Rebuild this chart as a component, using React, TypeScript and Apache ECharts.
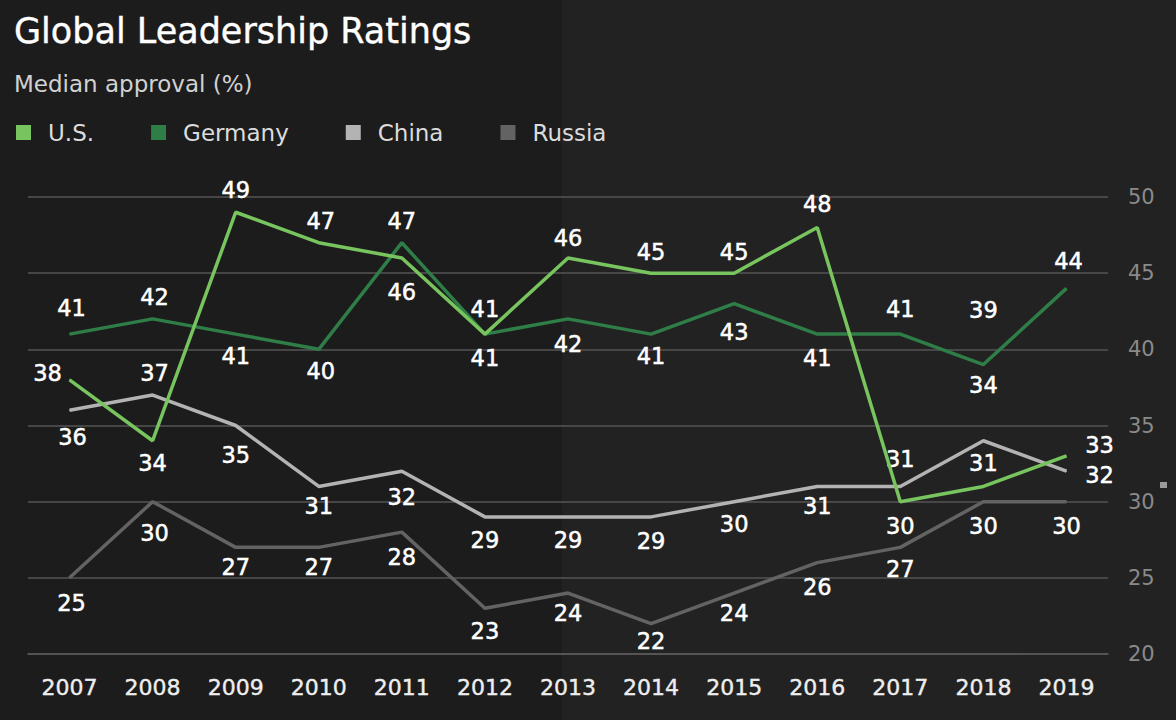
import { useEffect, useRef } from 'react'
import * as echarts from 'echarts'

const years = ['2007', '2008', '2009', '2010', '2011', '2012', '2013', '2014', '2015', '2016', '2017', '2018', '2019']
const usValues = [38, 34, 49, 47, 46, 41, 46, 45, 45, 48, 30, 31, 33]
const germanyValues = [41, 42, 41, 40, 47, 41, 42, 41, 43, 41, 41, 39, 44]
const chinaValues = [36, 37, 35, 31, 32, 29, 29, 29, 30, 31, 31, 34, 32]
const russiaValues = [25, 30, 27, 27, 28, 23, 24, 22, 24, 26, 27, 30, 30]
const yTicks = { min: 20, max: 50, step: 5 }

// label centre offsets from each point, in px (style only)
const usLabelOffsets = [[-22, -7], [0, 22], [0, -22], [2, -22], [0, 34], [0, -25], [0, -20], [0, -21], [0, -21], [0, -23], [0, 24], [0, -23], [33, -11]]
const germanyLabelOffsets = [[2, -26], [2, -22], [0, 22], [2, 22], [0, -22], [0, 24], [0, 25], [0, 22], [0, 28], [0, 24], [0, -25], [0, -55], [2, -27]]
const chinaLabelOffsets = [[3, 27], [2, -22], [0, 29], [0, 20], [0, 26], [0, 23], [0, 23], [0, 24], [0, 22], [0, 20], [0, -27], [0, -56], [33, 4]]
const russiaLabelOffsets = [[2, 25], [2, 31], [0, 20], [0, 20], [0, 25], [0, 23], [0, 20], [0, 17], [0, 20], [0, 24], [0, 22], [0, 24], [0, 24]]

const FONT = '"DejaVu Sans", sans-serif'

function makeSeries(name: string, values: number[], offsets: number[][], color: string, z: number) {
  return {
    name,
    type: 'line',
    z,
    symbol: 'circle',
    symbolSize: 1,
    itemStyle: { color },
    lineStyle: { color, width: 3.5 },
    label: {
      show: true,
      position: 'inside',
      color: '#ffffff',
      fontSize: 22.5,
      fontFamily: FONT,
      textBorderColor: '#ffffff',
      textBorderWidth: 0.5,
      align: 'center',
      verticalAlign: 'middle',
    },
    data: values.map((v, i) => ({ value: v, label: { offset: offsets[i] } })),
  }
}

export default function App() {
  const chartRef = useRef<HTMLDivElement>(null)

  useEffect(() => {
    if (!chartRef.current) return
    const chart = echarts.init(chartRef.current, null, { renderer: 'svg' })
    chart.setOption({
      animation: false,
      backgroundColor: '#1c1c1c',
      textStyle: { fontFamily: FONT },
      graphic: [
        { type: 'rect', z: -100, silent: true, shape: { x: 562, y: 0, width: 614, height: 720 }, style: { fill: '#222222' } },
        { type: 'rect', shape: { x: 1160, y: 482, width: 7, height: 6 }, style: { fill: '#9a9a9a' } },
      ],
      title: [
        {
          text: 'Global Leadership Ratings',
          left: 14, top: 10, padding: 0,
          textStyle: { color: '#ffffff', fontSize: 35, fontWeight: 'normal', fontFamily: FONT, lineHeight: 42, textBorderColor: '#ffffff', textBorderWidth: 0.4 },
        },
        {
          text: 'Median approval (%)',
          left: 14, top: 70, padding: 0,
          textStyle: { color: '#d2d2d2', fontSize: 23, fontWeight: 'normal', fontFamily: FONT, lineHeight: 28 },
        },
      ],
      legend: {
        left: 16, top: 121, padding: 0,
        icon: 'rect',
        itemWidth: 15, itemHeight: 15, itemGap: 57,
        textStyle: { color: '#dcdcdc', fontSize: 23, fontFamily: FONT, padding: [0, 0, 0, 12] },
        data: ['U.S.', 'Germany', 'China', 'Russia'],
      },
      grid: { left: 28, width: 1080, top: 197, height: 457 },
      xAxis: {
        type: 'category',
        data: years,
        boundaryGap: true,
        axisLine: { lineStyle: { color: '#5a5a5a', width: 1.5 } },
        axisTick: { alignWithLabel: true, length: 11, lineStyle: { color: '#5a5a5a', width: 1.5 } },
        axisLabel: { color: '#eeeeee', fontSize: 22, margin: 22, fontFamily: FONT, textBorderColor: '#eeeeee', textBorderWidth: 0.4 },
      },
      yAxis: {
        type: 'value',
        position: 'right',
        min: yTicks.min, max: yTicks.max, interval: yTicks.step,
        axisLine: { show: false },
        axisTick: { show: false },
        axisLabel: { color: '#8a8a8a', fontSize: 21, margin: 20, fontFamily: FONT },
        splitLine: { lineStyle: { color: '#545454', width: 1.5 } },
      },
      series: [
        makeSeries('U.S.', usValues, usLabelOffsets, '#78c45e', 6),
        makeSeries('Germany', germanyValues, germanyLabelOffsets, '#2f7d47', 5),
        makeSeries('China', chinaValues, chinaLabelOffsets, '#b3b3b3', 4),
        makeSeries('Russia', russiaValues, russiaLabelOffsets, '#636363', 3),
      ],
    })
    return () => { chart.dispose() }
  }, [])

  return <div ref={chartRef} style={{ position: 'fixed', left: 0, top: 0, width: 1176, height: 720 }} />
}
